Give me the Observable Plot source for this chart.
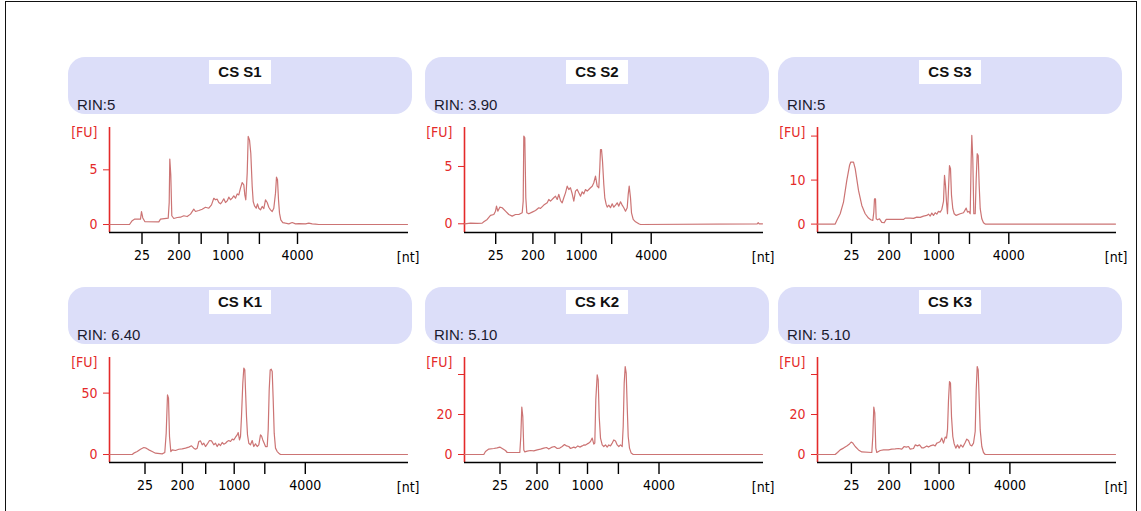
<!DOCTYPE html>
<html>
<head>
<meta charset="utf-8">
<script src="https://cdn.jsdelivr.net/npm/d3@7"></script>
<script src="https://cdn.jsdelivr.net/npm/@observablehq/plot@0.6"></script>
<style>
  html, body { margin: 0; padding: 0; background: #fff; }
  body { width: 1141px; height: 511px; position: relative; overflow: hidden; font-family: "Liberation Sans", Arial, sans-serif; }
  #frame { position: absolute; left: 5px; top: 1px; width: 1132px; height: 560px; border: 1.5px solid #111; box-sizing: border-box; }
  .hdr { position: absolute; background: #dcdef9; border-radius: 17px; }
  .ttl { position: absolute; background: #fff; font-weight: bold; font-size: 15px; color: #111; text-align: center; }
  .rin { position: absolute; font-size: 15px; color: #1b1b30; white-space: nowrap; }
  .chart { position: absolute; }
</style>
</head>
<body>
<div id="frame"></div>
<div id="root"></div>
<script>
// ---------- data ----------
const panelNames = ["CS S1", "CS S2", "CS S3", "CS K1", "CS K2", "CS K3"];
const rinLabels = ["RIN:5", "RIN: 3.90", "RIN:5", "RIN: 6.40", "RIN: 5.10", "RIN: 5.10"];

// ladder sizes [nt] and which are labelled
const ladderSizes = [25, 200, 500, 1000, 2000, 4000];
const ladderShown = ["25", "200", "", "1000", "", "4000"];

// migration-time positions of the ladder ticks, per panel (time units 0..299)
const ladderS1 = [32.5, 69.5, 91.7, 118.4, 149.9, 188];
const ladderS2 = [31.2, 68.4, 90.4, 117, 147.2, 186.7];
const ladderS3 = [34, 71.5, 93.7, 121.3, 152, 191.3];
const ladderK1 = [35.5, 72.9, 96.2, 124.7, 155.3, 195.8];
const ladderK2 = [35.5, 72.5, 95, 123, 153.9, 194.5];
const ladderK3 = [33.9, 71.4, 93.2, 121.6, 151.9, 192.4];

// fluorescence axis ticks / labels / ranges
const fuTicks = [[0, 5], [0, 5], [0, 10, 20], [0, 50], [0, 20, 40], [0, 20, 40]];
const fuTickLabels = [["0", "5"], ["0", "5"], ["0", "10", ""], ["0", "50"], ["0", "20", ""], ["0", "20", ""]];
const fuMin = [-0.73, -0.76, -1.91, -6.5, -4, -4];
const fuMax = [8.87, 8.4, 21.95, 79, 48.5, 48.5];

// electropherogram traces: [time, FU]
const traceS1 = [[0,0],[20,0],[22.7,0.35],[25.3,0.5],[31,0.5],[32,1.19],[33.3,0.6],[35.3,0.27],[49.3,0.24],[51,0.49],[58.7,0.58],[59.7,2.0],[60.3,5.98],[61.3,4.5],[62.3,0.8],[64.3,0.55],[67.7,0.64],[71,0.67],[74.3,0.8],[77.7,0.73],[81,0.95],[84.3,1.4],[86,1.19],[89.3,1.28],[92.7,1.4],[96,1.58],[99.3,1.49],[102,1.8],[104.3,2.4],[106,2.26],[107.7,2.32],[109.3,2.01],[111,1.89],[112.7,2.1],[114.3,2.35],[116,2.01],[117.7,2.16],[119.3,2.5],[121,2.26],[122.7,2.41],[124.3,2.62],[126,2.41],[127.7,2.8],[129.3,2.71],[131,3.32],[132.7,3.84],[134.3,3.63],[135.3,2.71],[136.3,2.26],[137.7,4.7],[138.7,8.05],[140,7.74],[141.3,6.52],[142.7,3.48],[143.7,2.1],[145,1.71],[146.7,1.49],[148,1.89],[149.3,1.49],[151,1.34],[152.7,1.65],[154.3,1.46],[156,2.26],[157.7,2.01],[159.3,1.58],[161,1.34],[162.7,1.19],[164.3,1.49],[166,2.87],[167,4.33],[168,4.1],[169,2.26],[170,1.04],[171.3,0.43],[173.3,0.18],[176,0.12],[179.3,0.06],[182.7,0.18],[186,0.06],[189.3,0.09],[196,0.06],[199.3,0.12],[202.7,0.06],[206,0.03],[209.3,0],[298,0]];
const traceS2 = [[0,0],[6,0.06],[12.7,0.03],[17.7,0.06],[19.3,0.17],[22.7,0.38],[26,0.73],[29.3,0.81],[31,1.1],[32,1.54],[33.3,1.1],[35.3,1.45],[37.7,1.4],[41,1.1],[44.3,0.81],[47.7,0.67],[51,0.81],[54.3,0.81],[57.7,0.96],[58.7,1.98],[59.3,7.65],[60.3,7.5],[61.3,2.27],[62.3,0.96],[64.3,0.87],[67.7,1.02],[71,1.16],[74.3,1.4],[76,1.34],[79.3,1.63],[82.7,1.83],[84.3,2.12],[86,1.98],[89.3,2.27],[91,2.41],[92.7,2.12],[94.3,2.56],[96,2.03],[97.7,1.83],[99.3,2.27],[101,2.7],[102.7,3.28],[104.3,2.99],[106,3.14],[107.7,2.62],[109.3,1.98],[111,2.85],[112.7,3.0],[114.3,2.7],[116,2.41],[117.7,2.79],[119.3,2.62],[121,2.99],[122.7,2.85],[124.3,2.99],[126,3.14],[127.7,3.28],[129.3,3.58],[131,4.16],[132.7,3.28],[134.3,3.14],[135.3,4.88],[136,6.48],[137,6.48],[138,5.47],[139.3,3.43],[140.3,2.27],[141.7,1.69],[142.7,1.45],[144.3,1.63],[146,1.4],[147.7,1.74],[149.3,1.45],[151,1.63],[152.7,1.83],[154.3,1.54],[156,1.92],[157.7,1.63],[159.3,1.4],[161,1.1],[162.7,1.4],[163.7,2.56],[164.7,3.28],[166,2.27],[167,0.96],[168.7,0.38],[171,0.17],[174.3,0],[176,-0.06],[292.7,0],[293.7,0.1],[294.7,0],[298,0]];
const traceS3 = [[0,0],[17.7,0],[19.3,0.83],[22.7,2.35],[26,5],[29.3,9.92],[32,13.3],[33.3,14.1],[36,14.1],[37.7,12.6],[41,7.65],[44.3,4.24],[47.7,2.35],[51,1.36],[53.3,0.98],[55.3,0.83],[56.3,2.7],[57,5.76],[58,5.76],[58.7,1.2],[60,0.98],[62,1.2],[64.3,0.38],[66.7,0.3],[68.7,1.06],[79.3,1.06],[86,1.06],[87.7,1.36],[92.7,1.36],[96,1.29],[99.3,1.59],[102.7,1.52],[106,1.82],[109.3,1.97],[111,2.27],[112.7,1.82],[114.3,2.5],[116,1.97],[117.7,2.58],[119.3,2.27],[121,2.88],[122.7,2.73],[124.3,3.33],[126,5.15],[127,11.06],[128,8.8],[129,5.0],[130,2.35],[131,7.95],[132,13.3],[133,12.6],[134,6.52],[135.3,3.5],[136.7,2.35],[138.7,1.97],[142.7,2.35],[146,2.58],[148.7,3.64],[150,2.73],[151.3,2.88],[152.7,2.35],[153.7,14.85],[154.3,20.15],[155.3,14.85],[156.3,2.35],[157.7,2.35],[158.7,10.3],[159.7,16],[160.7,15.6],[161.7,8.7],[162.7,3.5],[164.3,1.21],[166,0.3],[167.7,0],[298,0]];
const traceK1 = [[0,0],[22.7,0],[24.3,1.1],[27.7,2.4],[31,4.3],[34.3,5.7],[36.7,5.2],[39.3,3.8],[42.7,2.4],[46,1.1],[52.7,0.5],[55.3,1.6],[56.7,17.4],[58,48.6],[59,45.9],[60,14.7],[61.3,2.4],[62.7,3.8],[66,3.3],[69.3,4.3],[72.7,4.6],[76,5.2],[79.3,6],[82,7.1],[84.3,5.2],[86,4.3],[87.7,5.2],[89.3,10.6],[91,11.1],[92.7,7.9],[94.3,9.2],[96,6.5],[97.7,8.4],[100,11.4],[102,11.1],[104.3,7.9],[106,9.2],[107.7,6.5],[109.3,8.7],[111,7.3],[112.7,9.8],[114.3,8.4],[116,9.2],[117.7,10.6],[119.3,11.4],[121,10.6],[122.7,12.5],[124.3,11.9],[126,14.1],[127.7,16.0],[128.7,17.9],[130,11.9],[131,14.7],[132,31],[133.3,58.1],[134.3,70.3],[135.3,69],[136,52.7],[137,31],[138,16],[139.3,9.2],[141,7.9],[142.7,11.4],[144.3,6.5],[146,8.7],[147.7,6.5],[149.3,7.9],[151,16],[152,15.2],[153.3,11.9],[154.7,9.2],[156,6.5],[157.7,6.5],[158.7,20.1],[159.7,52.7],[160.7,68.9],[161.7,69.5],[162.7,67.6],[163.7,44.5],[164.7,17.4],[166,5.2],[167.7,2.4],[169.3,1.1],[171,0],[298,0]];
const traceK2 = [[0,0],[19.3,0],[21,1.5],[24.3,2.7],[29.3,3],[32.7,3.3],[35.3,3.7],[37.7,3],[41,2],[42.7,1],[55.3,1],[56.3,9],[57.3,23.7],[58.3,19],[59.3,2.3],[60.3,1.3],[62.7,1.7],[66,2],[69.3,1.8],[72.7,2.3],[76,2.7],[79.3,3.2],[82,3.5],[84.3,2.7],[87.7,3.7],[90,4],[92.7,3],[95.3,3.2],[97.7,4],[100,5],[102,4.3],[104.3,4],[106,3],[109.3,3.7],[111,3.3],[113.3,4.3],[115.3,3.7],[117.7,4.3],[119.3,4.8],[121,4.7],[122.7,5.3],[124.3,5.7],[126,6.5],[127.7,8.2],[129.3,5.2],[130.3,5.7],[131.3,27.3],[132.7,39.8],[133.7,37.3],[134.7,19],[136,8.2],[137.7,4.8],[139.3,4],[141,4.8],[142.7,3.7],[144.3,4.8],[146,4.3],[147.7,5.7],[149.3,7.3],[151,6.8],[152.7,4.8],[154.3,4],[156,4.8],[157.7,4],[158.7,14],[159.7,35.7],[160.7,44],[161.7,40.7],[162.7,24],[163.7,9],[165,3.2],[166.7,0.7],[168.7,0],[298,0]];
const traceK3 = [[0,0],[17.7,0],[20,1],[22.7,2.3],[26,3.2],[29.3,4.3],[32,5.3],[33.7,6.2],[35.3,5.7],[37.7,4],[41,2.3],[44.3,1.3],[54.3,1],[55.3,9],[56.3,23.7],[57.3,20.7],[58.3,3.2],[59.3,1],[62.7,2],[66,2.3],[71,2.3],[74.3,2.7],[77.7,2.8],[81,3],[84.3,2.7],[86.7,4],[88.7,3.7],[91,4],[92.7,2.7],[96,3],[97.7,4.8],[100,4.3],[102,4.8],[104.3,3.3],[106,3.3],[109.3,4.3],[111,3.7],[112.7,4.3],[116,4.8],[117.7,4.3],[119.3,5.7],[121,6],[122.7,6.5],[124.3,8.2],[126,5.7],[127.7,8.7],[129,8.2],[130,12.3],[131,27.3],[132,36.5],[133,35.7],[134,19],[135.3,9],[136.7,5.3],[138.3,3.2],[140,4.8],[141.7,3.2],[143.3,4.8],[145.3,3.7],[147.7,6],[149.3,7.7],[151,7],[152.7,4.8],[154.3,4.3],[156,5.7],[157.7,11.5],[158.7,32.3],[159.7,44],[160.7,42.3],[161.7,27.3],[162.7,12.3],[164.3,4],[166,1],[167.7,0],[298,0]];

const traces = [traceS1, traceS2, traceS3, traceK1, traceK2, traceK3];
const ladders = [ladderS1, ladderS2, ladderS3, ladderK1, ladderK2, ladderK3];

// ---------- layout / style ----------
const layout = {
  hdrLeft: [68, 425, 778], hdrTop: [57, 287], hdrW: 344, hdrH: 57,
  axisX: [109.3, 464.3, 816.5], axisTop: [127.3, 357.3],
  mL: 45, mT: 9, mB: 40, mR: 14, plotW: 299, plotH: 105
};
const RED = "#e42a2a";
const TRACE = "#cc7474";
const FONT = "'Liberation Sans Narrow','DejaVu Sans Condensed','Liberation Sans',Arial,sans-serif";

const root = document.getElementById("root");

panelNames.forEach((name, i) => {
  const col = i % 3, row = Math.floor(i / 3);

  // header
  const hdr = document.createElement("div");
  hdr.className = "hdr";
  Object.assign(hdr.style, {
    left: layout.hdrLeft[col] + "px", top: layout.hdrTop[row] + "px",
    width: layout.hdrW + "px", height: layout.hdrH + "px"
  });
  const ttl = document.createElement("div");
  ttl.className = "ttl";
  ttl.textContent = name;
  Object.assign(ttl.style, { left: (layout.hdrW / 2 - 31) + "px", top: "3px", width: "62px", height: "24px", lineHeight: "24px" });
  hdr.appendChild(ttl);
  const rin = document.createElement("div");
  rin.className = "rin";
  rin.textContent = rinLabels[i];
  Object.assign(rin.style, { left: "9px", bottom: "2px", lineHeight: "15px" });
  hdr.appendChild(rin);
  root.appendChild(hdr);

  // chart
  const ladderMap = new Map(ladders[i].map((p, j) => [p, ladderShown[j]]));
  const fuMap = new Map(fuTicks[i].map((v, j) => [v, fuTickLabels[i][j]]));
  const chart = Plot.plot({
    width: layout.mL + layout.plotW + layout.mR,
    height: layout.mT + layout.plotH + layout.mB,
    marginLeft: layout.mL, marginRight: layout.mR,
    marginTop: layout.mT, marginBottom: layout.mB,
    style: { fontFamily: FONT, fontSize: "14px", background: "transparent", overflow: "visible" },
    x: { domain: [0, 299] },
    y: { domain: [fuMin[i], fuMax[i]] },
    marks: [
      Plot.ruleX([0], { y1: fuMin[i], y2: fuMax[i], stroke: RED, strokeWidth: 1.6 }),
      Plot.axisY({ ticks: fuTicks[i], tickFormat: d => fuMap.get(d), tickSize: 6, tickPadding: 6, color: RED, label: null }),
      Plot.line(traces[i], { x: d => d[0], y: d => d[1], stroke: TRACE, strokeWidth: 1.2 }),
      Plot.ruleY([fuMin[i]], { x1: 0, x2: 299, stroke: "#000", strokeWidth: 1.7 }),
      Plot.axisX({ ticks: ladders[i], tickFormat: d => ladderMap.get(d), tickSize: 12, tickPadding: 6, color: "#000", strokeWidth: 1.4, label: null }),
      Plot.text(["[FU]"], { x: 0, y: fuMax[i], text: d => d, dx: -12, dy: 5, textAnchor: "end", fill: RED }),
      Plot.text(["[nt]"], { x: 299, y: fuMin[i], text: d => d, dx: 11, dy: 25, textAnchor: "end", fill: "#000" })
    ]
  });
  chart.classList.add("chart");
  Object.assign(chart.style, {
    left: (layout.axisX[col] - layout.mL) + "px",
    top: (layout.axisTop[row] - layout.mT) + "px"
  });
  root.appendChild(chart);
});
</script>
</body>
</html>
